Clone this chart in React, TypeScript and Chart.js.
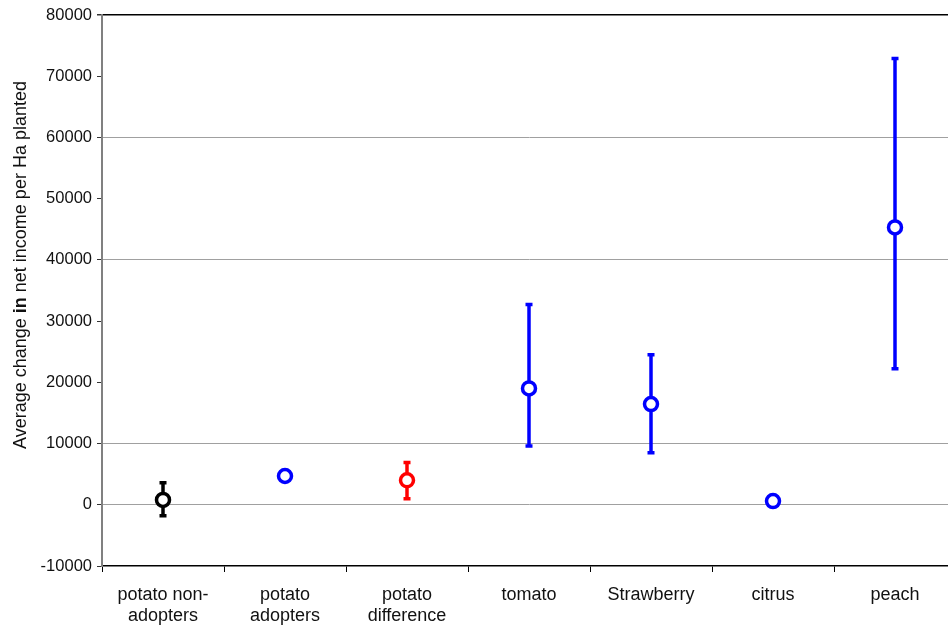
import React, { useEffect, useRef } from "react";
import { Chart, registerables } from "chart.js";

Chart.register(...registerables);

const categories: (string | string[])[] = [
  ["potato non-", "adopters"],
  ["potato", "adopters"],
  ["potato", "difference"],
  "tomato",
  "Strawberry",
  "citrus",
  "peach",
];
const means: number[] = [800, 4700, 4000, 19000, 16450, 600, 45300];
const errLow: (number | null)[] = [-1800, null, 1000, 9600, 8500, null, 22200];
const errHigh: (number | null)[] = [3600, null, 6900, 32700, 24500, null, 72900];
const pointColors: string[] = ["#000000", "#0000ff", "#ff0000", "#0000ff", "#0000ff", "#0000ff", "#0000ff"];
const gridValues: number[] = [60000, 40000, 10000, 0];
const yTitleParts: { text: string; bold: boolean }[] = [
  { text: "Average change ", bold: false },
  { text: "in", bold: true },
  { text: " net income per Ha planted", bold: false },
];

const FONT = "'Liberation Sans', Arial, sans-serif";

const errorBarPlugin = {
  id: "errorBars",
  beforeDatasetsDraw(chart: any) {
    const ctx = chart.ctx;
    const xs = chart.scales.x;
    const ys = chart.scales.y;
    ctx.save();
    for (let i = 0; i < means.length; i++) {
      const lo = errLow[i];
      const hi = errHigh[i];
      if (lo === null || hi === null) continue;
      const x = xs.getPixelForValue(i);
      const yLo = ys.getPixelForValue(lo);
      const yHi = ys.getPixelForValue(hi);
      ctx.strokeStyle = pointColors[i];
      ctx.lineWidth = 3.5;
      ctx.lineCap = "butt";
      ctx.beginPath();
      ctx.moveTo(x, yLo);
      ctx.lineTo(x, yHi);
      ctx.stroke();
      ctx.beginPath();
      ctx.moveTo(x - 3.5, yLo);
      ctx.lineTo(x + 3.5, yLo);
      ctx.moveTo(x - 3.5, yHi);
      ctx.lineTo(x + 3.5, yHi);
      ctx.stroke();
    }
    ctx.restore();
  },
};

const yTitlePlugin = {
  id: "yTitle",
  afterDraw(chart: any) {
    const ctx = chart.ctx;
    const size = 18;
    ctx.save();
    let total = 0;
    const widths: number[] = [];
    for (const p of yTitleParts) {
      ctx.font = `${p.bold ? "bold " : ""}${size}px ${FONT}`;
      const w = ctx.measureText(p.text).width;
      widths.push(w);
      total += w;
    }
    ctx.translate(26, 265);
    ctx.rotate(-Math.PI / 2);
    ctx.fillStyle = "#111111";
    ctx.textAlign = "left";
    ctx.textBaseline = "alphabetic";
    let x = -total / 2;
    yTitleParts.forEach((p, i) => {
      ctx.font = `${p.bold ? "bold " : ""}${size}px ${FONT}`;
      ctx.fillText(p.text, x, 0);
      x += widths[i];
    });
    ctx.restore();
  },
};

export default function App() {
  const ref = useRef<HTMLCanvasElement | null>(null);
  useEffect(() => {
    if (!ref.current) return;
    const chart = new Chart(ref.current, {
      type: "line",
      data: {
        labels: categories as any,
        datasets: [
          {
            data: means,
            showLine: false,
            pointRadius: 6.5,
            pointHoverRadius: 6.5,
            pointBorderWidth: 3.5,
            pointBorderColor: pointColors,
            pointBackgroundColor: "#ffffff",
          },
        ],
      },
      options: {
        animation: false,
        responsive: false,
        events: [],
        layout: { padding: { left: 0, top: 15, right: 4, bottom: 0 } },
        plugins: {
          legend: { display: false },
          tooltip: { enabled: false },
        },
        scales: {
          x: {
            type: "category",
            offset: true,
            border: { color: "#000000", width: 1.5 },
            grid: {
              offset: true,
              drawOnChartArea: false,
              drawTicks: true,
              tickLength: 6,
              tickColor: "#000000",
            },
            ticks: {
              color: "#111111",
              padding: 12,
              maxRotation: 0,
              autoSkip: false,
              font: { family: FONT, size: 18, lineHeight: 1.2 },
            },
            afterFit(scale: any) {
              scale.height = 64;
            },
          },
          y: {
            min: -10000,
            max: 80000,
            border: { color: "#808080", width: 2 },
            grid: {
              color: (c: any) => {
                const v = c.tick ? c.tick.value : null;
                if (v === 80000) return "#000000";
                return gridValues.includes(v) ? "#a0a0a0" : "rgba(0,0,0,0)";
              },
              lineWidth: (c: any) => (c.tick && c.tick.value === 80000 ? 1.5 : 1),
              tickColor: "#333333",
              tickLength: 5,
            },
            ticks: {
              stepSize: 10000,
              color: "#111111",
              padding: 5,
              font: { family: FONT, size: 16.5 },
              callback: (v: any) => String(v),
            },
            title: { display: false },
            afterFit(scale: any) {
              scale.width = 102;
            },
          },
        },
      },
      plugins: [errorBarPlugin, yTitlePlugin],
    });
    return () => chart.destroy();
  }, []);
  return (
    <div style={{ position: "fixed", left: 0, top: 0, width: 948, height: 630, overflow: "hidden", background: "#fff" }}>
      <canvas ref={ref} width={966} height={630} style={{ display: "block" }} />
    </div>
  );
}
